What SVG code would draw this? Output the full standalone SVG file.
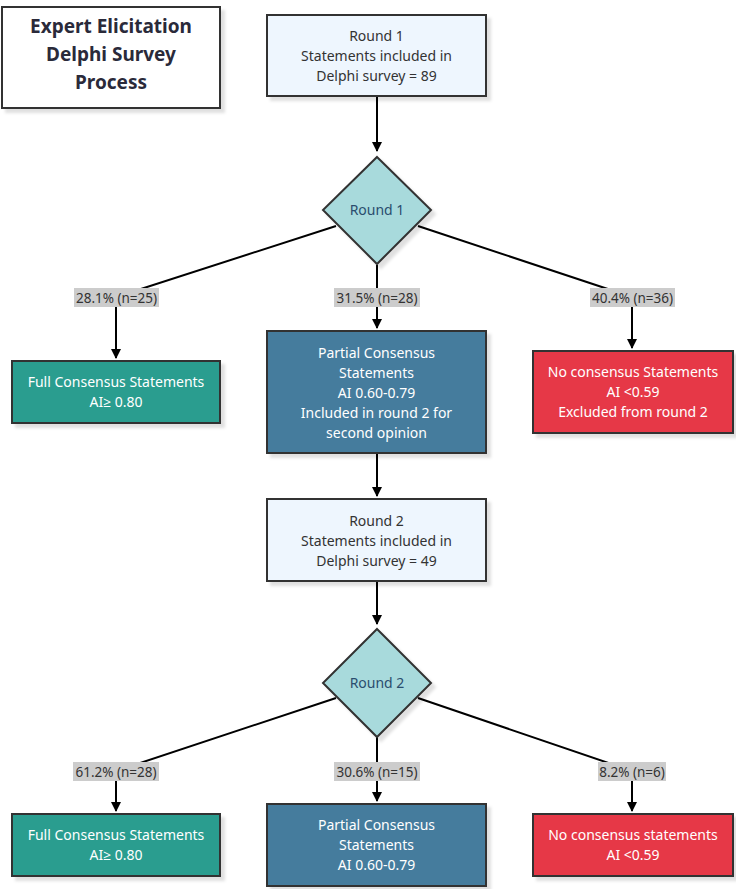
<svg xmlns="http://www.w3.org/2000/svg" width="736" height="889" viewBox="0 0 736 889">
<defs>
<filter id="sh" x="-10%" y="-10%" width="130%" height="130%">
<feDropShadow dx="4" dy="4" stdDeviation="1.5" flood-color="#000" flood-opacity="0.12"/>
</filter>
<marker id="ah" viewBox="0 0 10 10" refX="9" refY="5" markerWidth="10" markerHeight="10" markerUnits="userSpaceOnUse" orient="auto">
<path d="M0,0 L10,5 L0,10 z" fill="#000"/>
</marker>
</defs>
<style>
.box{stroke:#333;stroke-width:2;filter:url(#sh)}
.light{fill:#eef6fe}
.teal{fill:#2a9d8f}
.blue{fill:#457b9d}
.red{fill:#e63946}
.dia{fill:#a8dadc}
text{font-family:"Noto Sans","Open Sans",sans-serif;font-size:14px;text-anchor:middle}
.dk{fill:#333}
.wt{fill:#fff}
.dt{fill:#2a4d6e}
.title{font-weight:bold;font-size:19px;fill:#2a2a3a}
.edge{fill:none;stroke:#000;stroke-width:2}
.lbl rect{fill:#cccccc}
.lbl text{fill:#333;font-size:13.5px}
</style>
<g id="title">
<rect class="box" x="2" y="7" width="218" height="101" fill="#fff"/>
<text class="title" x="111" y="33">Expert Elicitation</text>
<text class="title" x="111" y="61">Delphi Survey</text>
<text class="title" x="111" y="89">Process</text>
</g>
<g id="connectors">
<path class="edge" d="M377,96 L377,151" marker-end="url(#ah)"/>
<path class="edge" d="M336,226 L116,297 L116,358" marker-end="url(#ah)"/>
<path class="edge" d="M377,265 L377,328" marker-end="url(#ah)"/>
<path class="edge" d="M418,226 L632,297 L632,348" marker-end="url(#ah)"/>
<path class="edge" d="M377,453 L377,496" marker-end="url(#ah)"/>
<path class="edge" d="M377,581 L377,624" marker-end="url(#ah)"/>
<path class="edge" d="M336,698 L116,771 L116,811" marker-end="url(#ah)"/>
<path class="edge" d="M377,737 L377,801" marker-end="url(#ah)"/>
<path class="edge" d="M418,698 L632,771 L632,811" marker-end="url(#ah)"/>
<g class="lbl">
<rect x="74" y="288" width="85" height="19"/><text x="116.5" y="302.5">28.1% (n=25)</text>
<rect x="334" y="288" width="86" height="19"/><text x="377" y="302.5">31.5% (n=28)</text>
<rect x="590" y="288" width="85" height="19"/><text x="632.5" y="302.5">40.4% (n=36)</text>
<rect x="73" y="762" width="86" height="19"/><text x="116" y="776.5">61.2% (n=28)</text>
<rect x="334" y="762" width="86" height="19"/><text x="377" y="776.5">30.6% (n=15)</text>
<rect x="598" y="762" width="68" height="19"/><text x="632" y="776.5">8.2% (n=6)</text>
</g>
</g>
<g id="round1box">
<rect class="box light" x="267" y="15" width="219" height="81"/>
<text class="dk" x="376.5" y="40.5">Round 1</text>
<text class="dk" x="376.5" y="60.5">Statements included in</text>
<text class="dk" x="376.5" y="80.5">Delphi survey = 89</text>
</g>
<g id="round1dia">
<polygon class="box dia" points="377,157 431,210 377,264 323,210"/>
<text class="dt" x="377" y="215">Round 1</text>
</g>
<g id="full1">
<rect class="box teal" x="12" y="361" width="208" height="62"/>
<text class="wt" x="116" y="386.5">Full Consensus Statements</text>
<text class="wt" x="116" y="406.5">AI≥ 0.80</text>
</g>
<g id="partial1">
<rect class="box blue" x="267" y="331" width="219" height="122"/>
<text class="wt" x="376.5" y="357.5">Partial Consensus</text>
<text class="wt" x="376.5" y="377.5">Statements</text>
<text class="wt" x="376.5" y="397.5">AI 0.60-0.79</text>
<text class="wt" x="376.5" y="417.5">Included in round 2 for</text>
<text class="wt" x="376.5" y="437.5">second opinion</text>
</g>
<g id="no1">
<rect class="box red" x="533" y="351" width="200" height="82"/>
<text class="wt" x="633" y="376.5">No consensus Statements</text>
<text class="wt" x="633" y="396.5">AI &lt;0.59</text>
<text class="wt" x="633" y="416.5">Excluded from round 2</text>
</g>
<g id="round2box">
<rect class="box light" x="267" y="499" width="219" height="82"/>
<text class="dk" x="376.5" y="525.5">Round 2</text>
<text class="dk" x="376.5" y="545.5">Statements included in</text>
<text class="dk" x="376.5" y="565.5">Delphi survey = 49</text>
</g>
<g id="round2dia">
<polygon class="box dia" points="377,629 431,683 377,737 323,683"/>
<text class="dt" x="377" y="688">Round 2</text>
</g>
<g id="full2">
<rect class="box teal" x="12" y="814" width="208" height="62"/>
<text class="wt" x="116" y="839.5">Full Consensus Statements</text>
<text class="wt" x="116" y="859.5">AI≥ 0.80</text>
</g>
<g id="partial2">
<rect class="box blue" x="267" y="804" width="219" height="82"/>
<text class="wt" x="376.5" y="829.5">Partial Consensus</text>
<text class="wt" x="376.5" y="849.5">Statements</text>
<text class="wt" x="376.5" y="869.5">AI 0.60-0.79</text>
</g>
<g id="no2">
<rect class="box red" x="533" y="814" width="200" height="62"/>
<text class="wt" x="633" y="839.5">No consensus statements</text>
<text class="wt" x="633" y="859.5">AI &lt;0.59</text>
</g>
</svg>
